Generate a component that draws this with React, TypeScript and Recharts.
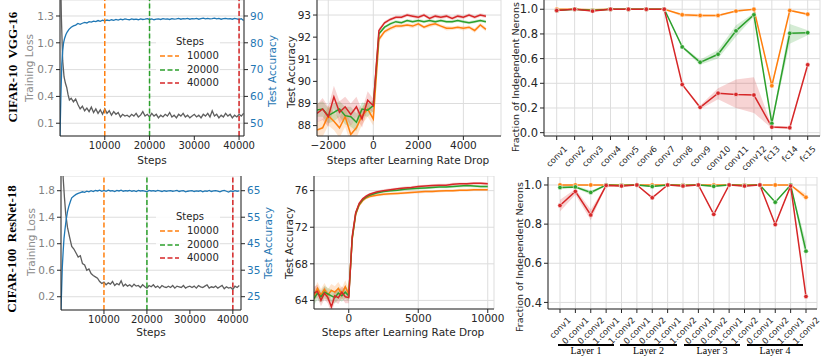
import React from 'react';
import { ComposedChart, Line, Area, XAxis, YAxis, CartesianGrid, ReferenceLine } from 'recharts';

const FONT = '"DejaVu Sans", Verdana, sans-serif';
const SERIF = '"Liberation Serif", "DejaVu Serif", serif';
const ORANGE = '#ff7f0e';
const GREEN = '#2ca02c';
const RED = '#d62728';
const BLUE = '#1f77b4';
const LOSS = '#5e5e5e';
const GRID = '#dddddd';
const AXIS = '#262626';

// ---------- Panel: CIFAR-10 VGG-16 training curves ----------
const vggLossEarlySteps = [0, 300, 600, 900, 1200, 1500, 1800, 2100];
const vggLossEarly = [2.2, 1.3, 0.8, 0.62, 0.55, 0.5, 0.42, 0.36];
const vggLossLate = [
  0.38, 0.34, 0.37, 0.31, 0.26, 0.29, 0.24, 0.27, 0.23, 0.28, 0.22, 0.26, 0.21, 0.25, 0.2, 0.26,
  0.21, 0.24, 0.19, 0.23, 0.2, 0.22, 0.17, 0.2, 0.18, 0.19,
  0.17, 0.2, 0.18, 0.21, 0.17, 0.19, 0.23, 0.18, 0.2, 0.17,
  0.21, 0.18, 0.2, 0.16, 0.19, 0.17, 0.2, 0.18, 0.22, 0.17,
  0.19, 0.16, 0.2, 0.18, 0.21, 0.17, 0.19, 0.16, 0.18, 0.2,
  0.17, 0.19, 0.16, 0.2, 0.18, 0.21, 0.17, 0.24, 0.18, 0.2,
  0.16, 0.19, 0.17, 0.21, 0.18, 0.2, 0.16, 0.19, 0.17, 0.2,
  0.18, 0.21,
];
const vggAccEarlySteps = [0, 200, 400, 600, 800, 1000, 1300, 1600, 2000];
const vggAccEarly = [45.2, 60, 72, 77, 80, 81.5, 83, 84, 85];
const vggAccLate = [
  85.8, 86.3, 86.6, 87.2, 86.9, 87.3, 87.6, 87.4, 87.9, 87.7, 88.1, 87.9, 88.3, 88.0, 88.4, 88.2,
  88.5, 88.3, 88.6, 88.4, 88.7, 88.5, 88.8, 88.6, 88.9, 88.7,
  88.6, 88.9, 88.7, 88.8, 88.6, 88.9, 88.7, 88.8, 89.0, 88.7,
  88.9, 88.6, 88.8, 88.9, 88.7, 89.0, 88.8, 88.9, 88.7, 89.0,
  88.8, 88.9, 89.1, 88.8, 89.0, 88.9, 89.1, 88.8, 89.0, 88.9,
  89.1, 88.8, 89.0, 89.2, 88.9, 89.1, 88.9, 89.0, 89.2, 88.9,
  89.1, 88.8, 89.0, 89.1, 88.9, 89.0, 88.8, 89.1, 88.9, 88.7,
  89.0, 88.3,
];

// ---------- Panel: CIFAR-100 ResNet-18 training curves ----------
const resLossEarlySteps = [0, 300, 500, 800, 1100, 1500, 2000];
const resLossEarly = [3.5, 2.4, 2.0, 1.7, 1.45, 1.25, 1.1];
const resLossLate = [
  0.96, 0.92, 0.86, 0.8, 0.82, 0.7, 0.68, 0.6, 0.62, 0.55, 0.52, 0.5, 0.48, 0.43, 0.4, 0.42,
  0.38, 0.41, 0.39, 0.43, 0.37, 0.4, 0.38, 0.44, 0.36, 0.39,
  0.36, 0.38, 0.35, 0.39, 0.36, 0.37, 0.34, 0.38, 0.35, 0.33,
  0.37, 0.35, 0.38, 0.34, 0.36, 0.33, 0.37, 0.35, 0.34, 0.36,
  0.34, 0.37, 0.33, 0.36, 0.35, 0.34, 0.37, 0.33, 0.35, 0.36,
  0.34, 0.36, 0.33, 0.37, 0.35, 0.34, 0.36, 0.38, 0.33, 0.35,
  0.34, 0.36, 0.33, 0.35, 0.37, 0.32, 0.35, 0.33, 0.34, 0.31,
  0.36, 0.34, 0.37,
];
const resAccEarlySteps = [0, 150, 300, 500, 700, 900, 1200, 1500, 1800, 2200];
const resAccEarly = [20, 28, 36, 42, 47, 50, 54, 57, 59, 61];
const resAccLate = [
  62.3, 63.0, 63.6, 64.0, 64.3, 64.6, 64.4, 64.8, 64.6, 65.0, 64.7, 65.1, 64.9, 65.2, 64.8, 65.1,
  64.8, 65.2, 64.9, 65.0, 64.7, 65.1, 64.9, 65.2, 64.8, 65.0,
  64.9, 65.1, 64.8, 65.0, 64.7, 65.1, 64.9, 65.0, 64.8, 64.6,
  65.1, 64.9, 65.0, 64.8, 65.1, 64.9, 64.7, 65.0, 64.8, 64.9,
  65.0, 64.8, 64.9, 65.1, 64.7, 64.9, 65.0, 64.6, 64.8, 64.9,
  65.0, 64.7, 64.9, 64.8, 65.0, 64.6, 64.9, 64.8, 65.1, 64.7,
  64.9, 65.0, 64.8, 64.6, 64.9, 65.1, 64.8, 64.5, 64.9, 64.7,
  65.0, 64.8, 64.9,
];

// ---------- Panel: VGG test accuracy after LR drop ----------
const vggDropSteps = [
  -2500, -2250, -2000, -1750, -1500, -1250, -1000, -750, -500, -250, 0,
  250, 500, 750, 1000, 1250, 1500, 1750, 2000, 2250, 2500, 2750, 3000, 3250, 3500, 3750, 4000, 4250, 4500, 4750, 5000,
];
const vggDrop10k = [
  87.8, 87.9, 88.45, 88.2, 87.9, 88.4, 87.6, 87.9, 88.45, 88.75, 88.3,
  91.9, 92.25, 92.4, 92.5, 92.5, 92.55, 92.5, 92.6, 92.45, 92.55, 92.6, 92.5, 92.4, 92.4, 92.45, 92.4, 92.45, 92.3, 92.55, 92.35,
];
const vggDrop10kSpread = [
  0.35, 0.4, 0.45, 0.4, 0.45, 0.45, 0.45, 0.45, 0.4, 0.35, 0.3,
  0.12, 0.1, 0.1, 0.1, 0.08, 0.08, 0.1, 0.08, 0.08, 0.1, 0.08, 0.08, 0.1, 0.08, 0.08, 0.1, 0.08, 0.1, 0.1, 0.1,
];
const vggDrop20k = [
  88.7, 88.75, 88.45, 88.6, 88.75, 88.45, 88.4, 88.15, 88.75, 88.7, 88.9,
  92.15, 92.45, 92.6, 92.7, 92.65, 92.75, 92.7, 92.75, 92.7, 92.75, 92.7, 92.75, 92.7, 92.7, 92.75, 92.7, 92.65, 92.7, 92.75, 92.7,
];
const vggDrop20kSpread = [
  0.3, 0.35, 0.35, 0.4, 0.35, 0.4, 0.45, 0.4, 0.3, 0.3, 0.25,
  0.08, 0.07, 0.07, 0.07, 0.07, 0.07, 0.07, 0.07, 0.07, 0.07, 0.07, 0.07, 0.07, 0.07, 0.07, 0.07, 0.07, 0.07, 0.07, 0.07,
];
const vggDrop40k = [
  88.55, 88.75, 88.4, 89.3, 88.6, 88.85, 88.5, 88.85, 88.3, 89.15, 88.9,
  92.3, 92.65, 92.8, 92.9, 92.9, 93.0, 92.95, 92.9, 93.0, 92.85, 92.95, 92.9, 92.95, 92.85, 92.95, 92.9, 93.0, 92.9, 93.0, 92.95,
];
const vggDrop40kSpread = [
  0.4, 0.5, 0.45, 0.5, 0.5, 0.45, 0.5, 0.45, 0.4, 0.4, 0.3,
  0.1, 0.08, 0.08, 0.08, 0.08, 0.08, 0.08, 0.08, 0.08, 0.08, 0.08, 0.08, 0.08, 0.08, 0.08, 0.08, 0.08, 0.08, 0.08, 0.08,
];

// ---------- Panel: ResNet test accuracy after LR drop ----------
const resDropSteps = [
  -2500, -2250, -2000, -1750, -1500, -1250, -1000, -750, -500, -250, 0,
  250, 500, 750, 1000, 1250, 1500,
  2000, 2500, 3000, 3500, 4000, 4500, 5000, 5500, 6000, 6500, 7000, 7500, 8000, 8500, 9000, 9500, 10000,
];
const resDrop10k = [
  64.5, 65.3, 64.6, 65.2, 64.6, 65.1, 64.9, 65.3, 64.7, 65.5, 64.7,
  70.7, 73.4, 74.4, 74.9, 75.2, 75.35,
  75.5, 75.6, 75.65, 75.7, 75.75, 75.8, 75.85, 75.9, 75.9, 75.95, 76.0, 76.0, 76.05, 76.05, 76.1, 76.1, 76.1,
];
const resDrop20k = [
  64.2, 64.8, 64.4, 64.9, 64.7, 64.5, 64.3, 64.8, 64.5, 64.9, 64.5,
  70.8, 73.5, 74.5, 75.0, 75.3, 75.5,
  75.75, 75.9, 76.0, 76.05, 76.15, 76.2, 76.25, 76.3, 76.35, 76.4, 76.4, 76.45, 76.5, 76.55, 76.5, 76.45, 76.45,
];
const resDrop40k = [
  64.8, 65.0, 64.0, 64.8, 64.3, 63.3, 64.5, 64.3, 64.9, 64.4, 64.3,
  71.0, 73.6, 74.6, 75.1, 75.4, 75.6,
  75.85, 76.0, 76.1, 76.2, 76.3, 76.35, 76.45, 76.5, 76.55, 76.6, 76.6, 76.7, 76.75, 76.75, 76.8, 76.8, 76.75,
];
const resDropSpread = [
  0.7, 0.7, 0.65, 0.7, 0.65, 0.7, 0.65, 0.7, 0.65, 0.7, 0.6,
  0.3, 0.2, 0.15, 0.15, 0.15, 0.15,
  0.15, 0.15, 0.15, 0.15, 0.15, 0.15, 0.15, 0.15, 0.15, 0.15, 0.15, 0.15, 0.15, 0.15, 0.15, 0.15, 0.15,
];

// ---------- Panel: VGG fraction of independent neurons ----------
const vggLayers = ['conv1', 'conv2', 'conv3', 'conv4', 'conv5', 'conv6', 'conv7', 'conv8', 'conv9', 'conv10', 'conv11', 'conv12', 'fc13', 'fc14', 'fc15'];
const vggInd10k = [1.0, 1.0, 0.995, 1.0, 1.0, 1.0, 1.0, 0.955, 0.95, 0.95, 0.985, 1.0, 0.38, 0.99, 0.96];
const vggInd10kLo = [0.998, 0.998, 0.99, 0.998, 0.998, 0.998, 0.998, 0.94, 0.935, 0.94, 0.975, 0.995, 0.36, 0.985, 0.95];
const vggInd10kHi = [1.0, 1.0, 1.0, 1.0, 1.0, 1.0, 1.0, 0.965, 0.962, 0.958, 0.99, 1.0, 0.4, 0.995, 0.97];
const vggInd20k = [0.99, 1.0, 0.99, 1.0, 1.0, 1.0, 1.0, 0.695, 0.57, 0.635, 0.825, 0.955, 0.075, 0.805, 0.81];
const vggInd20kLo = [0.985, 0.998, 0.985, 0.998, 0.998, 0.998, 0.998, 0.685, 0.55, 0.6, 0.78, 0.94, 0.06, 0.72, 0.79];
const vggInd20kHi = [0.995, 1.0, 0.995, 1.0, 1.0, 1.0, 1.0, 0.705, 0.59, 0.67, 0.87, 0.97, 0.09, 0.88, 0.83];
const vggInd40k = [0.99, 1.0, 0.985, 1.0, 1.0, 1.0, 1.0, 0.39, 0.205, 0.32, 0.31, 0.305, 0.045, 0.04, 0.55];
const vggInd40kLo = [0.985, 0.998, 0.98, 0.998, 0.998, 0.998, 0.998, 0.385, 0.19, 0.27, 0.2, 0.16, 0.035, 0.03, 0.545];
const vggInd40kHi = [0.995, 1.0, 0.99, 1.0, 1.0, 1.0, 1.0, 0.395, 0.22, 0.36, 0.43, 0.45, 0.055, 0.05, 0.555];

// ---------- Panel: ResNet fraction of independent neurons ----------
const resLayers = ['conv1', '0.conv1', '0.conv2', '1.conv1', '1.conv2', '0.conv1', '0.conv2', '1.conv1', '1.conv2', '0.conv1', '0.conv2', '1.conv1', '1.conv2', '0.conv1', '0.conv2', '1.conv1', '1.conv2'];
const resGroups = ['Layer 1', 'Layer 2', 'Layer 3', 'Layer 4'];
const resInd10k = [1.0, 1.0, 1.0, 1.0, 1.0, 1.0, 1.0, 1.0, 1.0, 1.0, 1.0, 1.0, 1.0, 1.0, 1.0, 1.0, 0.937];
const resInd10kLo = [0.997, 0.997, 0.997, 0.997, 0.997, 0.997, 0.997, 0.997, 0.997, 0.997, 0.997, 0.997, 0.997, 0.997, 0.997, 0.997, 0.92];
const resInd10kHi = [1.0, 1.0, 1.0, 1.0, 1.0, 1.0, 1.0, 1.0, 1.0, 1.0, 1.0, 1.0, 1.0, 1.0, 1.0, 1.0, 0.955];
const resInd20k = [0.987, 0.99, 0.962, 1.0, 0.997, 1.0, 0.992, 1.0, 0.997, 1.0, 0.993, 1.0, 0.997, 1.0, 0.912, 1.0, 0.662];
const resInd20kLo = [0.978, 0.985, 0.95, 0.998, 0.995, 0.998, 0.988, 0.998, 0.995, 0.998, 0.99, 0.998, 0.995, 0.998, 0.905, 0.998, 0.62];
const resInd20kHi = [0.995, 0.997, 0.972, 1.0, 1.0, 1.0, 0.996, 1.0, 1.0, 1.0, 0.996, 1.0, 1.0, 1.0, 0.918, 1.0, 0.71];
const resInd40k = [0.895, 0.967, 0.847, 0.998, 0.995, 1.0, 0.935, 1.0, 0.995, 1.0, 0.85, 1.0, 0.995, 1.0, 0.798, 0.995, 0.43];
const resInd40kLo = [0.865, 0.95, 0.82, 0.995, 0.99, 0.998, 0.928, 0.998, 0.99, 0.998, 0.845, 0.998, 0.99, 0.998, 0.792, 0.99, 0.42];
const resInd40kHi = [0.925, 0.98, 0.875, 1.0, 1.0, 1.0, 0.942, 1.0, 1.0, 1.0, 0.855, 1.0, 1.0, 1.0, 0.805, 1.0, 0.44];

const stepLegend = ['10000', '20000', '40000'];
const stepColors = [ORANGE, GREEN, RED];

// ---------- builders ----------
type Pt = { step: number; v: number };
function curve(earlySteps: number[], early: number[], late: number[], lateStart: number, lateGap: number): Pt[] {
  const a = earlySteps.map((s, i) => ({ step: s, v: early[i] }));
  const b = late.map((v, i) => ({ step: lateStart + lateGap * i, v }));
  return [...a, ...b];
}
const vggLoss = curve(vggLossEarlySteps, vggLossEarly, vggLossLate, 2500, 500);
const vggAcc = curve(vggAccEarlySteps, vggAccEarly, vggAccLate, 2500, 500);
const resLoss = curve(resLossEarlySteps, resLossEarly, resLossLate, 2500, 500);
const resAcc = curve(resAccEarlySteps, resAccEarly, resAccLate, 2500, 500);

function dropRows(steps: number[], o: number[], os: number[], g: number[], gs: number[], r: number[], rs: number[]) {
  return steps.map((s, i) => ({
    step: s,
    o: o[i], g: g[i], r: r[i],
    oBand: [o[i] - os[i], o[i] + os[i]],
    gBand: [g[i] - gs[i], g[i] + gs[i]],
    rBand: [r[i] - rs[i], r[i] + rs[i]],
  }));
}
const vggDropData = dropRows(vggDropSteps, vggDrop10k, vggDrop10kSpread, vggDrop20k, vggDrop20kSpread, vggDrop40k, vggDrop40kSpread);
const resDropData = dropRows(resDropSteps, resDrop10k, resDropSpread, resDrop20k, resDropSpread, resDrop40k, resDropSpread);

function indRows(names: string[], o: number[], oL: number[], oH: number[], g: number[], gL: number[], gH: number[], r: number[], rL: number[], rH: number[]) {
  return names.map((n, i) => ({
    id: 'k' + i, label: n,
    o: o[i], g: g[i], r: r[i],
    oBand: [oL[i], oH[i]], gBand: [gL[i], gH[i]], rBand: [rL[i], rH[i]],
  }));
}
const vggIndData = indRows(vggLayers, vggInd10k, vggInd10kLo, vggInd10kHi, vggInd20k, vggInd20kLo, vggInd20kHi, vggInd40k, vggInd40kLo, vggInd40kHi);
const resIndData = indRows(resLayers, resInd10k, resInd10kLo, resInd10kHi, resInd20k, resInd20kLo, resInd20kHi, resInd40k, resInd40kLo, resInd40kHi);

// ---------- helpers ----------
const fmtMinus = (v: number) => (v < 0 ? '\u2212' + Math.abs(v) : String(v));
const fmt1 = (v: number) => v.toFixed(1);
const charW: Record<string, number> = { c: 0.55, o: 0.612, n: 0.634, v: 0.592, f: 0.352, '.': 0.318 };
function textW(s: string, fs: number) {
  let w = 0;
  for (const ch of s) w += charW[ch] ?? 0.636;
  return w * fs;
}

function RotTick(props: any) {
  const { x, y, payload, lookup, off, fs } = props;
  const label = lookup[payload.value] ?? payload.value;
  const L = textW(label, fs);
  const cy = y + off + ((L + 0.75 * fs) * 0.7071) / 2;
  return (
    <text
      transform={`translate(${x},${cy}) rotate(-45)`}
      textAnchor="middle"
      dominantBaseline="central"
      fontSize={fs}
      fill={AXIS}
      fontFamily={FONT}
    >
      {label}
    </text>
  );
}

function VText({ x, y, text, size, color = AXIS, family = FONT, weight = 'normal' }: any) {
  return (
    <div
      style={{
        position: 'absolute', left: x, top: y, transform: 'translate(-50%, -50%) rotate(-90deg)',
        whiteSpace: 'pre', fontSize: size, color, fontFamily: family, fontWeight: weight, lineHeight: 1,
      }}
    >
      {text}
    </div>
  );
}
function HText({ x, y, text, size, color = AXIS, family = FONT }: any) {
  return (
    <div
      style={{
        position: 'absolute', left: x, top: y, transform: 'translate(-50%, -50%)',
        whiteSpace: 'pre', fontSize: size, color, fontFamily: family, lineHeight: 1,
      }}
    >
      {text}
    </div>
  );
}

function StepsLegend({ left, top }: { left: number; top: number }) {
  return (
    <div style={{ position: 'absolute', left, top, width: 64, height: 56, background: 'rgba(255,255,255,0.85)', fontFamily: FONT, fontSize: 10, color: AXIS }}>
      <div style={{ position: 'absolute', left: 20, top: 1, lineHeight: 1 }}>Steps</div>
      {stepLegend.map((s, i) => (
        <div key={s} style={{ position: 'absolute', left: 0, top: 14 + i * 13.5, height: 12, width: 64 }}>
          <svg width={22} height={12} style={{ position: 'absolute', left: 3, top: 0 }}>
            <line x1={1} y1={6} x2={20} y2={6} stroke={stepColors[i]} strokeWidth={1.5} strokeDasharray="5 2.5" />
          </svg>
          <div style={{ position: 'absolute', left: 31, top: 1, lineHeight: 1 }}>{s}</div>
        </div>
      ))}
    </div>
  );
}

const tickFont = (size: number, fill: string = AXIS) => ({ fontSize: size, fill, fontFamily: FONT });

function TrainPanel({ width, height, leftW, loss, acc, lossDomain, lossTicks, accDomain, accTicks, xDomain }: any) {
  return (
    <ComposedChart width={width} height={height} margin={{ top: 0, right: 0, bottom: 0, left: 0 }}>
      <CartesianGrid yAxisId="loss" stroke={GRID} strokeWidth={1} />
      <XAxis dataKey="step" type="number" domain={xDomain} ticks={[10000, 20000, 30000, 40000]} allowDataOverflow height={34}
        tick={tickFont(10)} tickSize={4} tickMargin={2} stroke={AXIS} />
      <YAxis yAxisId="loss" orientation="left" width={leftW} domain={lossDomain} ticks={lossTicks} allowDataOverflow
        tickFormatter={fmt1} tick={tickFont(10.5, '#7f7f7f')} tickSize={4} tickMargin={2} stroke={AXIS} />
      <YAxis yAxisId="acc" orientation="right" width={46} domain={accDomain} ticks={accTicks} allowDataOverflow
        tick={tickFont(10.5, BLUE)} tickSize={4} tickMargin={2} stroke={AXIS} />
      <Line yAxisId="loss" data={loss} dataKey="v" stroke={LOSS} strokeWidth={1.3} dot={false} activeDot={false} isAnimationActive={false} />
      <Line yAxisId="acc" data={acc} dataKey="v" stroke={BLUE} strokeWidth={1.3} dot={false} activeDot={false} isAnimationActive={false} />
      <ReferenceLine yAxisId="loss" x={10000} stroke={ORANGE} strokeWidth={1.5} strokeDasharray="5 2.5" />
      <ReferenceLine yAxisId="loss" x={20000} stroke={GREEN} strokeWidth={1.5} strokeDasharray="5 2.5" />
      <ReferenceLine yAxisId="loss" x={40000} stroke={RED} strokeWidth={1.5} strokeDasharray="5 2.5" />
    </ComposedChart>
  );
}

function DropPanel({ width, height, leftW, rightM, data, xDomain, xTicks, yDomain, yTicks }: any) {
  return (
    <ComposedChart width={width} height={height} data={data} margin={{ top: 0, right: rightM, bottom: 0, left: 0 }}>
      <CartesianGrid stroke={GRID} strokeWidth={1} />
      <XAxis dataKey="step" type="number" domain={xDomain} ticks={xTicks} allowDataOverflow height={34}
        tickFormatter={fmtMinus} tick={tickFont(10.5)} tickSize={4} tickMargin={2} stroke={AXIS} />
      <YAxis width={leftW} domain={yDomain} ticks={yTicks} allowDataOverflow tick={tickFont(10.5)} tickSize={4} tickMargin={2} stroke={AXIS} />
      <Area dataKey="oBand" fill={ORANGE} fillOpacity={0.2} stroke="none" isAnimationActive={false} activeDot={false} />
      <Area dataKey="gBand" fill={GREEN} fillOpacity={0.2} stroke="none" isAnimationActive={false} activeDot={false} />
      <Area dataKey="rBand" fill={RED} fillOpacity={0.2} stroke="none" isAnimationActive={false} activeDot={false} />
      <Line dataKey="o" stroke={ORANGE} strokeWidth={1.5} dot={false} activeDot={false} isAnimationActive={false} />
      <Line dataKey="g" stroke={GREEN} strokeWidth={1.5} dot={false} activeDot={false} isAnimationActive={false} />
      <Line dataKey="r" stroke={RED} strokeWidth={1.5} dot={false} activeDot={false} isAnimationActive={false} />
    </ComposedChart>
  );
}

function IndPanel({ width, height, leftW, rightM, data, yDomain, yTicks, padL, padR, xh, off, fs }: any) {
  const lookup: Record<string, string> = {};
  data.forEach((d: any) => { lookup[d.id] = d.label; });
  const dot = (c: string) => ({ r: 2.2, fill: c, stroke: '#ffffff', strokeWidth: 0.5 });
  return (
    <ComposedChart width={width} height={height} data={data} margin={{ top: 0, right: rightM, bottom: 0, left: 0 }}>
      <CartesianGrid stroke={GRID} strokeWidth={1} />
      <XAxis dataKey="id" type="category" interval={0} padding={{ left: padL, right: padR }} height={xh}
        tick={(p: any) => <RotTick {...p} lookup={lookup} off={off} fs={fs} />} tickSize={4} tickMargin={2} stroke={AXIS} />
      <YAxis width={leftW} domain={yDomain} ticks={yTicks} allowDataOverflow tickFormatter={fmt1}
        tick={tickFont(11.5)} tickSize={4} tickMargin={2} stroke={AXIS} />
      <Area dataKey="oBand" fill={ORANGE} fillOpacity={0.2} stroke="none" isAnimationActive={false} activeDot={false} />
      <Area dataKey="gBand" fill={GREEN} fillOpacity={0.2} stroke="none" isAnimationActive={false} activeDot={false} />
      <Area dataKey="rBand" fill={RED} fillOpacity={0.2} stroke="none" isAnimationActive={false} activeDot={false} />
      <Line dataKey="o" stroke={ORANGE} strokeWidth={1.5} dot={dot(ORANGE)} activeDot={false} isAnimationActive={false} />
      <Line dataKey="g" stroke={GREEN} strokeWidth={1.5} dot={dot(GREEN)} activeDot={false} isAnimationActive={false} />
      <Line dataKey="r" stroke={RED} strokeWidth={1.5} dot={dot(RED)} activeDot={false} isAnimationActive={false} />
    </ComposedChart>
  );
}

const layerBars = [
  { x1: 558, x2: 614 },
  { x1: 620, x2: 677 },
  { x1: 684, x2: 740 },
  { x1: 747, x2: 803 },
];

export default function App() {
  return (
    <div style={{ position: 'absolute', left: 0, top: 0, width: 831, height: 358, background: '#ffffff', overflow: 'hidden', fontFamily: FONT }}>
      {/* top-left */}
      <div style={{ position: 'absolute', left: 20, top: 0 }}>
        <TrainPanel width={270} height={170} leftW={40} loss={vggLoss} acc={vggAcc}
          lossDomain={[-0.043, 1.479]} lossTicks={[0.1, 0.4, 0.7, 1.0, 1.3]}
          accDomain={[45.22, 95.97]} accTicks={[50, 60, 70, 80, 90]} xDomain={[0, 41100]} />
      </div>
      {/* bottom-left */}
      <div style={{ position: 'absolute', left: 20, top: 176 }}>
        <TrainPanel width={267} height={168} leftW={41} loss={resLoss} acc={resAcc}
          lossDomain={[0, 2.022]} lossTicks={[0.2, 0.6, 1.0, 1.4, 1.8]}
          accDomain={[19.98, 70.55]} accTicks={[25, 35, 45, 55, 65]} xDomain={[0, 41900]} />
      </div>
      {/* top-middle */}
      <div style={{ position: 'absolute', left: 285, top: 0 }}>
        <DropPanel width={222} height={170} leftW={32} rightM={6} data={vggDropData} xDomain={[-2500, 5670]} xTicks={[-2000, 0, 2000, 4000]}
          yDomain={[87.53, 93.68]} yTicks={[88, 89, 90, 91, 92, 93]} />
      </div>
      {/* bottom-middle */}
      <div style={{ position: 'absolute', left: 283, top: 176 }}>
        <DropPanel width={227} height={167} leftW={31} rightM={16} data={resDropData} xDomain={[-2500, 10450]} xTicks={[0, 5000, 10000]}
          yDomain={[63.06, 77.6]} yTicks={[64, 68, 72, 76]} />
      </div>
      {/* top-right */}
      <div style={{ position: 'absolute', left: 508, top: 0 }}>
        <IndPanel width={321} height={175} leftW={36} rightM={9} data={vggIndData} yDomain={[-0.027, 1.075]} yTicks={[0, 0.2, 0.4, 0.6, 0.8, 1.0]}
          padL={12.7} padR={12.3} xh={39} off={3} fs={8.5} />
      </div>
      {/* bottom-right */}
      <div style={{ position: 'absolute', left: 508, top: 177 }}>
        <IndPanel width={322} height={172} leftW={40} rightM={13} data={resIndData} yDomain={[0.3664, 1.0408]} yTicks={[0.4, 0.6, 0.8, 1.0]}
          padL={12} padR={11} xh={40} off={1.4} fs={8.5} />
      </div>

      {/* legends */}
      <StepsLegend left={156} top={36} />
      <StepsLegend left={156} top={211} />

      {/* row titles */}
      <VText x={12} y={67} text={'CIFAR-10  VGG-16'} size={13} family={SERIF} weight="bold" color="#000" />
      <VText x={11} y={249} text={'CIFAR-100  ResNet-18'} size={13} family={SERIF} weight="bold" color="#000" />

      {/* axis titles */}
      <VText x={29} y={68} text="Training Loss" size={10.5} color="#8c8c8c" />
      <VText x={272} y={71} text="Test Accuracy" size={10.5} color={BLUE} />
      <HText x={152} y={160} text="Steps" size={10.5} />
      <VText x={31} y={242} text="Training Loss" size={10.5} color="#8c8c8c" />
      <VText x={268} y={243} text="Test Accuracy" size={10.5} color={BLUE} />
      <HText x={151} y={332} text="Steps" size={10.5} />

      <VText x={291} y={72} text="Test Accuracy" size={10.5} />
      <HText x={408} y={160} text="Steps after Learning Rate Drop" size={10.5} />
      <VText x={289} y={243} text="Test Accuracy" size={10.5} />
      <HText x={403} y={332} text="Steps after Learning Rate Drop" size={10.5} />

      <VText x={516} y={77} text="Fraction of Independent Nerons" size={9.5} />
      <VText x={520} y={257} text="Fraction of Independent Nerons" size={9.5} />

      {/* ResNet layer groups */}
      {layerBars.map((b, i) => (
        <React.Fragment key={resGroups[i]}>
          <div style={{ position: 'absolute', left: b.x1, top: 344, width: b.x2 - b.x1, height: 1.6, background: '#000' }} />
          <HText x={(b.x1 + b.x2) / 2} y={351} text={resGroups[i]} size={10} family={SERIF} color="#000" />
        </React.Fragment>
      ))}
    </div>
  );
}
